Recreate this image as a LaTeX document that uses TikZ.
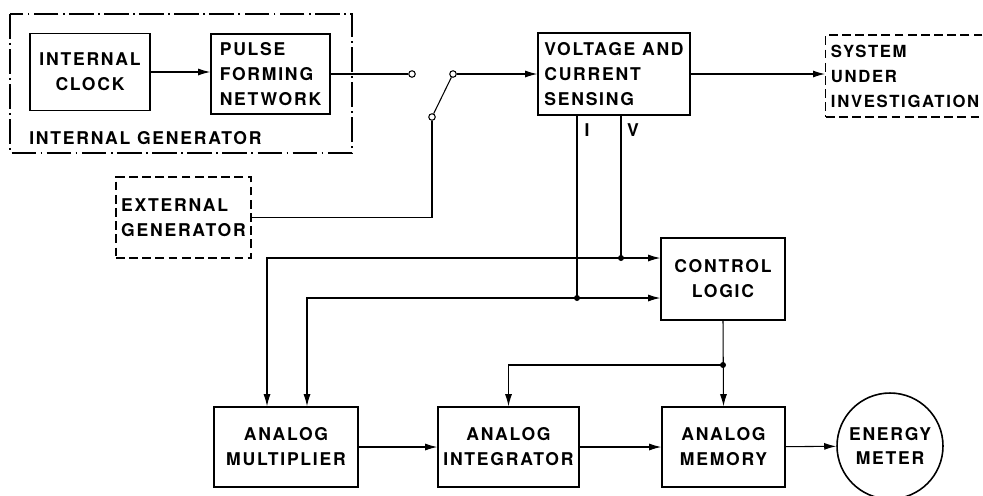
\documentclass[tikz,border=0pt]{standalone}
\usepackage{fontspec}
\newfontfamily\lblfont[LetterSpace=10]{TeX Gyre Heros}
\usetikzlibrary{arrows.meta,positioning}

\begin{document}
\begin{tikzpicture}[
  x=0.02cm, y=-0.02cm,
  every node/.style={font=\lblfont\bfseries\fontsize{10}{14.2}\selectfont},
  blk/.style={draw, line width=0.9pt, inner sep=2pt, align=center},
  lblk/.style={blk, align=left},
  dblk/.style={draw, dash pattern=on 5pt off 2.5pt, line width=0.8pt, align=left, inner sep=3pt},
  flow/.style={draw, line width=0.6pt, -{Latex[length=2.4mm,width=1.4mm]}},
  wire/.style={draw, line width=0.6pt},
  term/.style={circle, draw, line width=0.6pt, inner sep=0pt, minimum size=1.3mm},
  dot/.style={circle, fill, inner sep=0pt, minimum size=1.2mm}
]
\useasboundingbox (0,0) rectangle (983,495);

% internal generator
\draw[dash pattern=on 14pt off 2.5pt on 1pt off 2.5pt, line width=0.6pt] (10,14) rectangle (352,153);
\node[blk, minimum width=2.4cm, minimum height=1.54cm] (clock) at (90,72) {INTERNAL\\CLOCK};
\node[lblk, minimum width=2.38cm, minimum height=1.6cm] (pfn) at (270.5,74) {PULSE\\FORMING\\NETWORK};
\node[anchor=west, inner sep=0pt] (iglbl) at (29,138) {INTERNAL GENERATOR};

% switch
\node[term] (t1) at (412,74) {};
\node[term] (t2) at (453,74) {};
\node[term] (piv) at (432,117) {};

\node[lblk, minimum width=3.04cm, minimum height=1.64cm] (sense) at (614,74) {VOLTAGE AND\\CURRENT\\SENSING};
\node[dblk, anchor=west, text width=3.7cm, minimum height=1.64cm,
  font=\lblfont\bfseries\fontsize{9.5}{14.2}\selectfont] (sut) at (825,76) {SYSTEM\\UNDER\\INVESTIGATION};
\node[dblk, minimum width=2.58cm, minimum height=1.62cm] (extgen) at (183.5,217.5) {EXTERNAL\\GENERATOR};
\node[blk, minimum width=2.48cm, minimum height=1.64cm] (ctrl) at (723,279) {CONTROL\\LOGIC};

% bottom chain
\node[blk, minimum width=2.88cm, minimum height=1.6cm] (mult) at (286,447) {ANALOG\\MULTIPLIER};
\node[blk, minimum width=2.82cm, minimum height=1.6cm] (integ) at (508.5,447) {ANALOG\\INTEGRATOR};
\node[blk, minimum width=2.46cm, minimum height=1.6cm] (mem) at (723.5,447) {ANALOG\\MEMORY};
\node[circle, draw, line width=0.9pt, minimum size=2.12cm, inner sep=0pt, align=center] (meter) at (890,446) {ENERGY\\METER};

\node (ilbl) at (587,130) {I};
\node (vlbl) at (633,130) {V};

\coordinate (jI) at (577,298);
\coordinate (jV) at (621,258);
\coordinate (jC) at (723,365);

\draw[flow] (clock.east) -- (clock.east -| pfn.west);
\draw[wire] (pfn.east) -- (t1);
\draw[wire] (piv) -- (t2);
\draw[wire] (piv) |- (extgen.east);
\draw[flow] (t2) -- (sense.west |- t2);
\draw[flow] (sense.east) -- (sense.east -| sut.west);

\draw[wire] (sense.south -| jI) -- (jI);
\draw[wire] (sense.south -| jV) -- (jV);
\draw[flow] (jV) -- (jV -| ctrl.west);
\draw[flow] (jI) -- (jI -| ctrl.west);
\draw[flow] (jV) -| ([xshift=-0.38cm]mult.north);
\draw[flow] (jI) -| ([xshift=0.42cm]mult.north);
\node[dot] at (jI) {};
\node[dot] at (jV) {};

\draw[flow] (ctrl.south) -- (mem.north);
\draw[flow] (jC) -| (integ.north);
\node[dot] at (jC) {};

\draw[flow] (mult) -- (integ);
\draw[flow] (integ) -- (mem);
\draw[flow] (mem) -- (meter);
\end{tikzpicture}
\end{document}
